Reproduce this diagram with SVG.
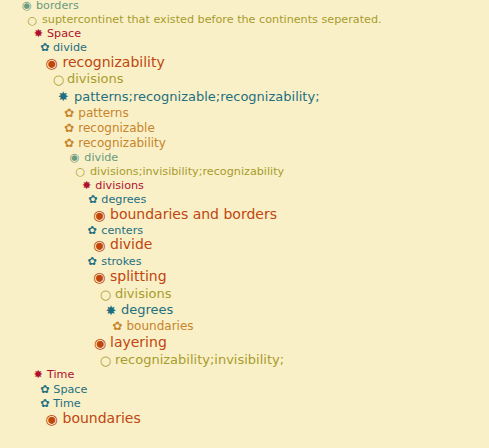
<svg xmlns="http://www.w3.org/2000/svg" width="489" height="448" viewBox="0 0 489 448">
<style>
text{font-family:"DejaVu Sans","Liberation Sans",sans-serif}
.s11{font-size:11.2px}.s12{font-size:12px}.s13{font-size:13px}.s14{font-size:14px}
.i{text-anchor:middle}
.g{fill:#6b9a7e}.o{fill:#a89c2c}.r{fill:#b0102a}.t{fill:#1f6f80}.b{fill:#c0460e}.y{fill:#c8842a}
</style>
<rect width="489" height="448" fill="#f9f0c8"/>
<g id="n1" class="g s11"><text class="i" x="27" y="9.3">◉</text><text x="36" y="9">borders</text></g>
<g id="n2" class="o s11"><text class="i" x="32.3" y="23.5">○</text><text x="42" y="22.5">suptercontinet that existed before the continents seperated.</text></g>
<g id="n3" class="r s11"><text class="i" x="38.5" y="37">✸</text><text x="47" y="36.7">Space</text></g>
<g id="n4" class="t s11"><text class="i" x="45" y="51">✿</text><text x="53" y="50.7">divide</text></g>
<g id="n5" class="b s14"><text class="i" x="51.7" y="68">◉</text><text x="62.5" y="66.7">recognizability</text></g>
<g id="n6" class="o s13"><text class="i" x="58.3" y="84.3">○</text><text x="67" y="83.3">divisions</text></g>
<g id="n7" class="t s13"><text class="i" x="63.3" y="101">✸</text><text x="74" y="100.7">patterns;recognizable;recognizability;</text></g>
<g id="n8" class="y s12"><text class="i" x="69" y="117.3">✿</text><text x="78.3" y="116.7">patterns</text></g>
<g id="n9" class="y s12"><text class="i" x="69" y="131.7">✿</text><text x="78.3" y="131.7">recognizable</text></g>
<g id="n10" class="y s12"><text class="i" x="69" y="146.7">✿</text><text x="78.3" y="146.7">recognizability</text></g>
<g id="n11" class="g s11"><text class="i" x="74.7" y="161.3">◉</text><text x="84.3" y="161">divide</text></g>
<g id="n12" class="o s11"><text class="i" x="80.3" y="175.2">○</text><text x="90" y="175">divisions;invisibility;recognizability</text></g>
<g id="n13" class="r s11"><text class="i" x="86.7" y="188.7">✸</text><text x="95.3" y="188.7">divisions</text></g>
<g id="n14" class="t s11"><text class="i" x="93" y="202.7">✿</text><text x="101.3" y="202.7">degrees</text></g>
<g id="n15" class="b s14"><text class="i" x="99.3" y="219.7">◉</text><text x="110" y="218.5">boundaries and borders</text></g>
<g id="n16" class="t s11"><text class="i" x="92.3" y="234.4">✿</text><text x="101.3" y="234">centers</text></g>
<g id="n17" class="b s14"><text class="i" x="99.3" y="250.3">◉</text><text x="110" y="249.4">divide</text></g>
<g id="n18" class="t s11"><text class="i" x="92.3" y="265">✿</text><text x="101.3" y="264.7">strokes</text></g>
<g id="n19" class="b s14"><text class="i" x="99.3" y="281.5">◉</text><text x="110" y="280.7">splitting</text></g>
<g id="n20" class="o s13"><text class="i" x="105.3" y="299">○</text><text x="115" y="298">divisions</text></g>
<g id="n21" class="t s13"><text class="i" x="111" y="315">✸</text><text x="121" y="314.4">degrees</text></g>
<g id="n22" class="y s12"><text class="i" x="117.3" y="330">✿</text><text x="126.5" y="330">boundaries</text></g>
<g id="n23" class="b s14"><text class="i" x="100" y="348">◉</text><text x="110" y="346.7">layering</text></g>
<g id="n24" class="o s13"><text class="i" x="105.3" y="365">○</text><text x="115" y="364.3">recognizability;invisibility;</text></g>
<g id="n25" class="r s11"><text class="i" x="38.3" y="378">✸</text><text x="47" y="378.3">Time</text></g>
<g id="n26" class="t s11"><text class="i" x="45" y="392.7">✿</text><text x="53.3" y="392.7">Space</text></g>
<g id="n27" class="t s11"><text class="i" x="45" y="406.7">✿</text><text x="53.3" y="406.7">Time</text></g>
<g id="n28" class="b s14"><text class="i" x="51.7" y="423.7">◉</text><text x="62.5" y="422.7">boundaries</text></g>
</svg>
